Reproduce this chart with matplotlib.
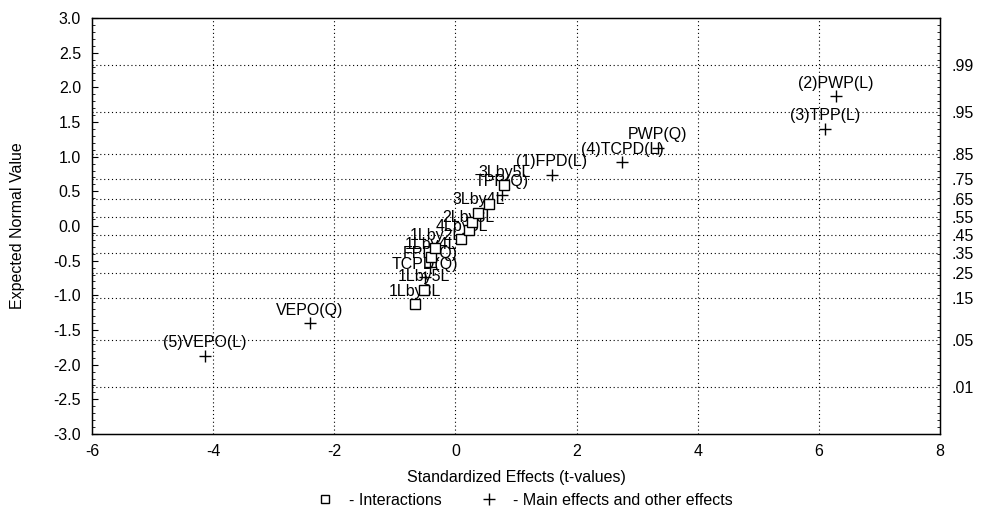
import matplotlib
matplotlib.use("Agg")
import matplotlib.pyplot as plt
from matplotlib.lines import Line2D
from matplotlib.ticker import MultipleLocator, FixedLocator

plt.rcParams['font.family'] = ['Liberation Sans', 'DejaVu Sans']
plt.rcParams['axes.unicode_minus'] = False

# ---- data ----
labels = ["(5)VEPO(L)", "VEPO(Q)", "1Lby3L", "1Lby5L", "TCPD(Q)", "FPD(Q)",
          "1Lby4L", "1Lby2L", "4Lby5L", "2Lby3L", "", "3Lby4L",
          "", "TPP(Q)", "3Lby5L", "(1)FPD(L)", "(4)TCPD(L)", "PWP(Q)",
          "(3)TPP(L)", "(2)PWP(L)"]
t_values = [-4.14, -2.40, -0.67, -0.52, -0.50, -0.42, -0.40, -0.33, 0.10,
            0.22, 0.28, 0.38, 0.55, 0.77, 0.81, 1.59, 2.75, 3.34, 6.10, 6.28]
expected = [-1.87, -1.40, -1.13, -0.92, -0.74, -0.59, -0.45, -0.32, -0.19,
            -0.06, 0.06, 0.19, 0.32, 0.45, 0.59, 0.74, 0.92, 1.13, 1.40, 1.87]
kind = ["M", "M", "I", "I", "M", "M", "I", "I", "I", "I", "I", "I",
        "I", "M", "I", "M", "M", "M", "M", "M"]

prob_labels = [".01", ".05", ".15", ".25", ".35", ".45", ".55", ".65",
               ".75", ".85", ".95", ".99"]
prob_z = [-2.326, -1.645, -1.036, -0.674, -0.385, -0.126, 0.126, 0.385,
          0.674, 1.036, 1.645, 2.326]
x_ticks = [-6, -4, -2, 0, 2, 4, 6, 8]
x_grid = [-4, -2, 0, 2, 4, 6]
y_ticks = [-3.0, -2.5, -2.0, -1.5, -1.0, -0.5, 0.0, 0.5, 1.0, 1.5, 2.0, 2.5, 3.0]

FS = 11.5
W, H = 983, 516
fig = plt.figure(figsize=(W / 100, H / 100), dpi=100)
ax = fig.add_axes([92 / W, 1 - 434 / H, (940 - 92) / W, (434 - 18) / H])

# grid
for gx in x_grid:
    ax.axvline(gx, color="black", lw=0.8, ls=(0, (1, 2.5)), zorder=0)
for gz in prob_z:
    ax.axhline(gz, color="black", lw=0.8, ls=(0, (1, 2.5)), zorder=0)

# points
for x, y, k, lab in zip(t_values, expected, kind, labels):
    if k == "M":
        ax.plot(x, y, marker="+", color="black", ms=9, mew=1.0, ls="none", zorder=3)
    else:
        ax.plot(x, y, marker="s", color="black", ms=7, mew=1.0, mfc="white",
                ls="none", zorder=3)
    if lab:
        ax.annotate(lab, (x, y), xytext=(0, 4), textcoords="offset points",
                    ha="center", va="bottom", fontsize=FS, color="black", zorder=2)

# axes styling
ax.set_xticks(x_ticks)
ax.set_xticklabels([str(v) for v in x_ticks])
ax.set_yticks(y_ticks)
ax.set_yticklabels([f"{v:.1f}" for v in y_ticks])
ax.yaxis.set_minor_locator(MultipleLocator(0.1))
ax.set_xlim(-6, 8)
ax.set_ylim(-3, 3)
ax.tick_params(axis="y", which="major", direction="in", length=4, labelsize=FS, pad=8)
ax.tick_params(axis="y", which="minor", direction="in", length=2)
ax.tick_params(axis="x", which="major", direction="in", length=0, labelsize=FS, pad=7)
for s in ax.spines.values():
    s.set_linewidth(1.0)

ax2 = ax.twinx()
ax2.set_ylim(-3, 3)
ax2.yaxis.set_major_locator(FixedLocator(prob_z))
ax2.set_yticklabels(prob_labels)
ax2.yaxis.set_minor_locator(MultipleLocator(0.1))
ax2.tick_params(axis="y", which="major", direction="in", length=0, labelsize=FS, pad=8)
ax2.tick_params(axis="y", which="minor", direction="in", length=2)

ax.set_ylabel("Expected Normal Value", fontsize=FS, labelpad=20)
ax.set_xlabel("Standardized Effects (t-values)", fontsize=FS, labelpad=8)

handles = [Line2D([], [], marker="s", color="black", mfc="white", ms=6, ls="none"),
           Line2D([], [], marker="+", color="black", ms=8, ls="none")]
fig.legend(handles, ["- Interactions", "- Main effects and other effects"],
           loc="lower center", bbox_to_anchor=(0.53, -0.012), ncol=2, frameon=False,
           fontsize=FS, handletextpad=0.5, columnspacing=2.0)

fig.savefig("out.png", dpi=100)
